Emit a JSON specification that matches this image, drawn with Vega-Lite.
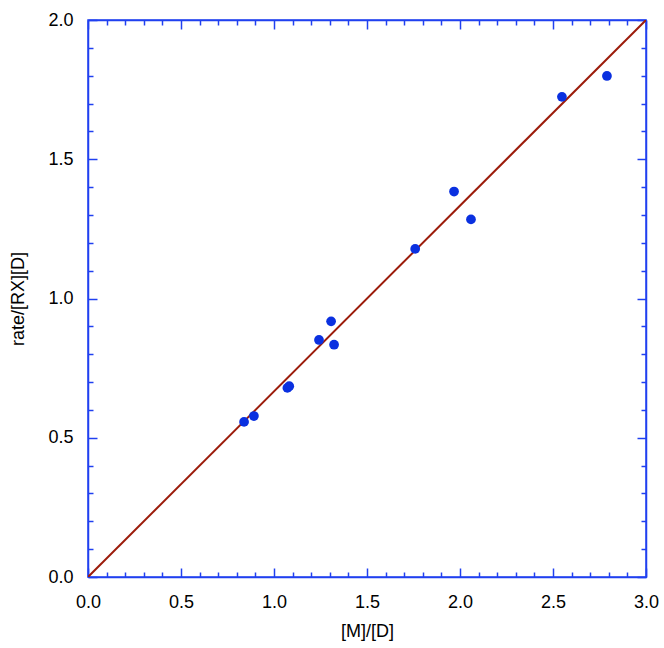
{
  "$schema": "https://vega.github.io/schema/vega-lite/v6.json",
  "width": 558,
  "height": 557,
  "autosize": {"type": "none"},
  "padding": {"left": 88, "top": 20, "right": 18, "bottom": 71},
  "background": "white",
  "config": {
    "view": {"stroke": "#2040f0", "strokeWidth": 1.5},
    "font": "Liberation Sans",
    "axis": {
      "domainColor": "#2040f0",
      "tickColor": "#2040f0",
      "domainWidth": 1.5,
      "tickWidth": 1.5,
      "grid": false,
      "labelFont": "Liberation Sans",
      "titleFont": "Liberation Sans",
      "labelFontSize": 18,
      "titleFontSize": 18,
      "labelColor": "black",
      "titleColor": "black",
      "titleFontWeight": "normal",
      "labelFlush": false
    }
  },
  "datasets": {
    "pts": [
      {"x": 0.839, "y": 0.557},
      {"x": 0.892, "y": 0.578},
      {"x": 1.072, "y": 0.679},
      {"x": 1.082, "y": 0.685},
      {"x": 1.242, "y": 0.851},
      {"x": 1.307, "y": 0.918},
      {"x": 1.323, "y": 0.834},
      {"x": 1.759, "y": 1.178},
      {"x": 1.968, "y": 1.384},
      {"x": 2.059, "y": 1.284},
      {"x": 2.548, "y": 1.724},
      {"x": 2.790, "y": 1.799}
    ],
    "fit": [
      {"x": 0.0, "y": 0.0},
      {"x": 3.0, "y": 2.0}
    ]
  },
  "resolve": {"axis": {"x": "independent", "y": "independent"}},
  "layer": [
    {
      "data": {"name": "fit"},
      "mark": {"type": "line", "color": "#9c1c0b", "strokeWidth": 2, "clip": true},
      "encoding": {
        "x": {"field": "x", "type": "quantitative", "scale": {"domain": [0, 3], "nice": false, "zero": false},
          "axis": {"orient": "bottom", "title": "[M]/[D]", "values": [0, 0.5, 1, 1.5, 2, 2.5, 3], "format": ".1f", "tickSize": -9, "labelPadding": 25, "titlePadding": 11}},
        "y": {"field": "y", "type": "quantitative", "scale": {"domain": [0, 2], "nice": false, "zero": false},
          "axis": {"orient": "left", "title": "rate/[RX][D]", "values": [0, 0.5, 1, 1.5, 2], "format": ".1f", "tickSize": -9, "labelPadding": 24, "titlePadding": 20}}
      }
    },
    {
      "data": {"name": "pts"},
      "mark": {"type": "circle", "color": "#0a30e0", "opacity": 1, "size": 95},
      "encoding": {
        "x": {"field": "x", "type": "quantitative", "scale": {"domain": [0, 3], "nice": false, "zero": false},
          "axis": {"orient": "bottom", "title": null, "labels": false, "domain": false, "tickSize": -5,
            "values": [0.1, 0.2, 0.3, 0.4, 0.6, 0.7, 0.8, 0.9, 1.1, 1.2, 1.3, 1.4, 1.6, 1.7, 1.8, 1.9, 2.1, 2.2, 2.3, 2.4, 2.6, 2.7, 2.8, 2.9]}},
        "y": {"field": "y", "type": "quantitative", "scale": {"domain": [0, 2], "nice": false, "zero": false},
          "axis": {"orient": "left", "title": null, "labels": false, "domain": false, "tickSize": -5,
            "values": [0.1, 0.2, 0.3, 0.4, 0.6, 0.7, 0.8, 0.9, 1.1, 1.2, 1.3, 1.4, 1.6, 1.7, 1.8, 1.9]}}
      }
    },
    {
      "data": {"name": "pts"},
      "mark": {"type": "point", "opacity": 0},
      "encoding": {
        "x": {"field": "x", "type": "quantitative", "scale": {"domain": [0, 3], "nice": false, "zero": false},
          "axis": {"orient": "top", "title": null, "labels": false, "tickSize": -9, "values": [0, 0.5, 1, 1.5, 2, 2.5, 3]}},
        "y": {"field": "y", "type": "quantitative", "scale": {"domain": [0, 2], "nice": false, "zero": false},
          "axis": {"orient": "right", "title": null, "labels": false, "tickSize": -9, "values": [0, 0.5, 1, 1.5, 2]}}
      }
    },
    {
      "data": {"name": "pts"},
      "mark": {"type": "point", "opacity": 0},
      "encoding": {
        "x": {"field": "x", "type": "quantitative", "scale": {"domain": [0, 3], "nice": false, "zero": false},
          "axis": {"orient": "top", "title": null, "labels": false, "domain": false, "tickSize": -5,
            "values": [0.1, 0.2, 0.3, 0.4, 0.6, 0.7, 0.8, 0.9, 1.1, 1.2, 1.3, 1.4, 1.6, 1.7, 1.8, 1.9, 2.1, 2.2, 2.3, 2.4, 2.6, 2.7, 2.8, 2.9]}},
        "y": {"field": "y", "type": "quantitative", "scale": {"domain": [0, 2], "nice": false, "zero": false},
          "axis": {"orient": "right", "title": null, "labels": false, "domain": false, "tickSize": -5,
            "values": [0.1, 0.2, 0.3, 0.4, 0.6, 0.7, 0.8, 0.9, 1.1, 1.2, 1.3, 1.4, 1.6, 1.7, 1.8, 1.9]}}
      }
    }
  ]
}
